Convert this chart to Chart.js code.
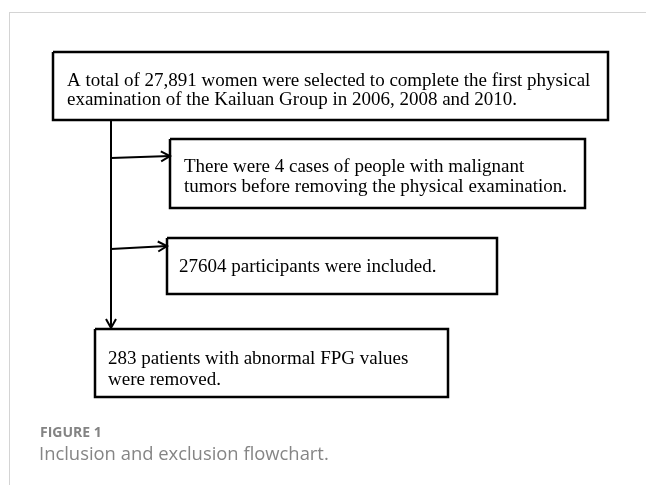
<!DOCTYPE html>
<html lang="en">
<head>
    <meta charset="UTF-8">
    <title>Figure 1 - Inclusion and exclusion flowchart</title>
    <script src="https://cdn.jsdelivr.net/npm/chart.js"></script>
    <style>
        body { margin: 0; background: #fff; }
        .page { position: relative; width: 646px; height: 485px; overflow: hidden; }
        .frame { position: absolute; left: 9px; top: 12px; right: 0; bottom: 0;
                 border-top: 1px solid #d4d4d4; border-left: 1px solid #d4d4d4; }
        #flow { position: absolute; left: 0; top: 0; }
        .fig-label { position: absolute; left: 40px; top: 422px; font-family: "Open Sans", sans-serif;
                     font-weight: 700; font-size: 14px; color: #838383; }
        .fig-caption { position: absolute; left: 39px; top: 440px; font-family: "Open Sans", sans-serif;
                       font-size: 18.4px; color: #858585; }
    </style>
</head>
<body>
    <div class="page">
        <div class="frame"></div>
        <canvas id="flow" width="646" height="485"></canvas>
        <div class="fig-label">FIGURE 1</div>
        <div class="fig-caption">Inclusion and exclusion flowchart.</div>
    </div>

    <script>
    // boxes of the flowchart (page units, y grows downwards)
    const boxText = [
        ['A total of 27,891 women were selected to complete the first physical',
         'examination of the Kailuan Group in 2006, 2008 and 2010.'],
        ['There were 4 cases of people with malignant',
         'tumors before removing the physical examination.'],
        ['27604 participants were included.'],
        ['283 patients with abnormal FPG values',
         'were removed.']
    ];
    const boxLeft = [53, 170, 167, 95];
    const boxRight = [608, 585, 497, 448];
    const boxTop = [52, 139, 238, 329];
    const boxBottom = [120, 208, 294, 397];
    const textLeft = [67, 184, 179, 108];
    const textLines = [[81, 100], [167, 187], [267], [359, 380]];

    // main trunk and the side arrows
    const trunkX = 111;
    const trunkTop = 120;
    const trunkEnd = 328;
    const sideFrom = [[111, 158], [111, 249]];
    const sideTo = [[170, 156], [167, 246]];

    const ARROW_LEN = 9, ARROW_HALF = 5;

    function boxPoints(i) {
        return [
            { x: boxLeft[i], y: boxTop[i] },
            { x: boxRight[i], y: boxTop[i] },
            { x: boxRight[i], y: boxBottom[i] },
            { x: boxLeft[i], y: boxBottom[i] },
            { x: boxLeft[i], y: boxTop[i] }
        ];
    }

    function headPoints(from, to) {
        const dx = to[0] - from[0], dy = to[1] - from[1];
        const len = Math.sqrt(dx * dx + dy * dy);
        const ux = dx / len, uy = dy / len;
        const bx = to[0] - ux * ARROW_LEN, by = to[1] - uy * ARROW_LEN;
        return [
            { x: bx - uy * ARROW_HALF, y: by + ux * ARROW_HALF },
            { x: to[0], y: to[1] },
            { x: bx + uy * ARROW_HALF, y: by - ux * ARROW_HALF }
        ];
    }

    function lineSet(points, width) {
        return {
            data: points,
            showLine: true,
            borderColor: '#000',
            borderWidth: width,
            pointRadius: 0,
            tension: 0,
            borderJoinStyle: 'miter',
            borderCapStyle: 'butt',
            clip: false
        };
    }

    const datasets = [];
    boxText.forEach((t, i) => datasets.push(lineSet(boxPoints(i), 2.5)));
    datasets.push(lineSet([{ x: trunkX, y: trunkTop }, { x: trunkX, y: trunkEnd }], 2));
    datasets.push(lineSet(headPoints([trunkX, trunkTop], [trunkX, trunkEnd]), 2));
    sideFrom.forEach((f, i) => {
        datasets.push(lineSet([{ x: f[0], y: f[1] }, { x: sideTo[i][0], y: sideTo[i][1] }], 2));
        datasets.push(lineSet(headPoints(f, sideTo[i]), 2));
    });

    const boxLabels = {
        id: 'boxLabels',
        afterDatasetsDraw(chart) {
            const ctx = chart.ctx;
            const xs = chart.scales.x, ys = chart.scales.y;
            ctx.save();
            ctx.fillStyle = '#000';
            ctx.font = '19px "Liberation Serif", "Times New Roman", serif';
            ctx.textBaseline = 'middle';
            ctx.textAlign = 'left';
            boxText.forEach((lines, i) => {
                lines.forEach((line, j) => {
                    ctx.fillText(line, xs.getPixelForValue(textLeft[i]), ys.getPixelForValue(textLines[i][j]));
                });
            });
            ctx.restore();
        }
    };

    new Chart(document.getElementById('flow'), {
        type: 'scatter',
        data: { datasets: datasets },
        options: {
            responsive: false,
            animation: false,
            events: [],
            layout: { padding: 0 },
            scales: {
                x: { type: 'linear', min: 0, max: 646, display: false },
                y: { type: 'linear', min: 0, max: 485, reverse: true, display: false }
            },
            plugins: {
                legend: { display: false },
                tooltip: { enabled: false }
            }
        },
        plugins: [boxLabels]
    });
    </script>
</body>
</html>
